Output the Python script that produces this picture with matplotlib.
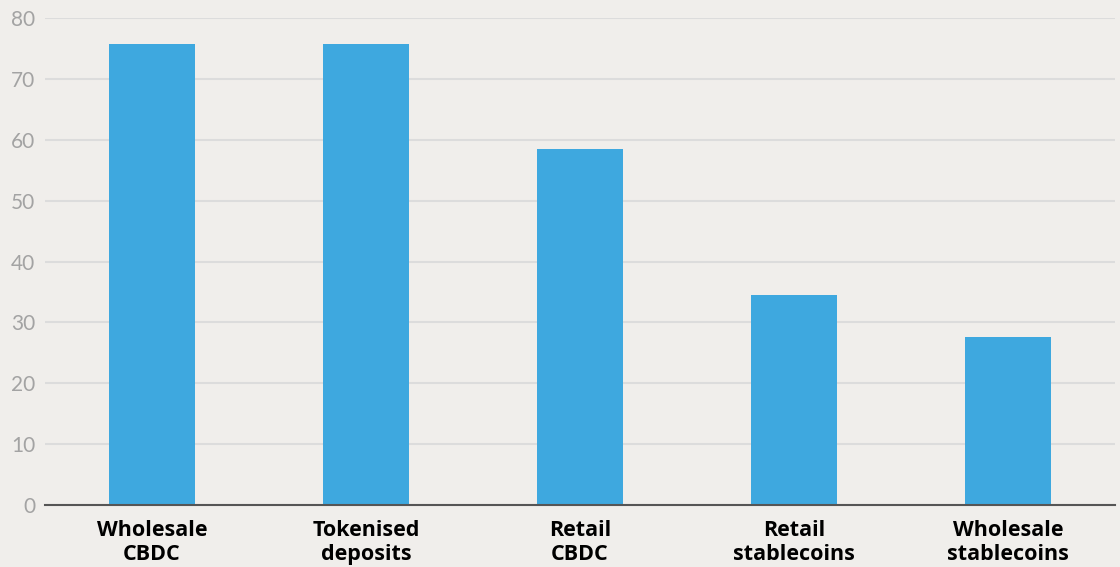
import matplotlib.pyplot as plt

categories = ['Wholesale\nCBDC', 'Tokenised\ndeposits', 'Retail\nCBDC', 'Retail\nstablecoins', 'Wholesale\nstablecoins']
values = [75.7, 75.7, 58.5, 34.5, 27.6]
yticks = [0, 10, 20, 30, 40, 50, 60, 70, 80]

bg = '#f0eeeb'
plt.rcParams['font.family'] = ['Lato', 'DejaVu Sans']

fig = plt.figure(figsize=(11.2, 5.67), dpi=100, facecolor=bg)
ax = fig.add_axes([0.0402, 0.1093, 0.9553, 0.859])
ax.set_facecolor(bg)

x = range(len(categories))
ax.bar(x, values, width=0.4, color='#3ea8df', zorder=3)

ax.set_xlim(-0.5, len(categories) - 0.5)
ax.set_ylim(0, 80)
ax.set_yticks(yticks)
ax.set_yticklabels([str(t) for t in yticks], color='#a3a3a3', fontsize=15)
ax.set_xticks(list(x))
ax.set_xticklabels(categories, fontsize=15.5, fontweight='bold', color='black',
                   linespacing=1.15, family=['Open Sans', 'DejaVu Sans'])

ax.grid(axis='y', color='#dcdcdc', linewidth=1.5, zorder=0)
ax.tick_params(axis='both', length=0)
ax.tick_params(axis='y', pad=7)
ax.tick_params(axis='x', pad=11)

for s in ['top', 'right', 'left']:
    ax.spines[s].set_visible(False)
ax.spines['bottom'].set_color('#555555')
ax.spines['bottom'].set_linewidth(1.5)
ax.spines['bottom'].set_zorder(4)

fig.savefig('out.png', dpi=100, facecolor=bg)
